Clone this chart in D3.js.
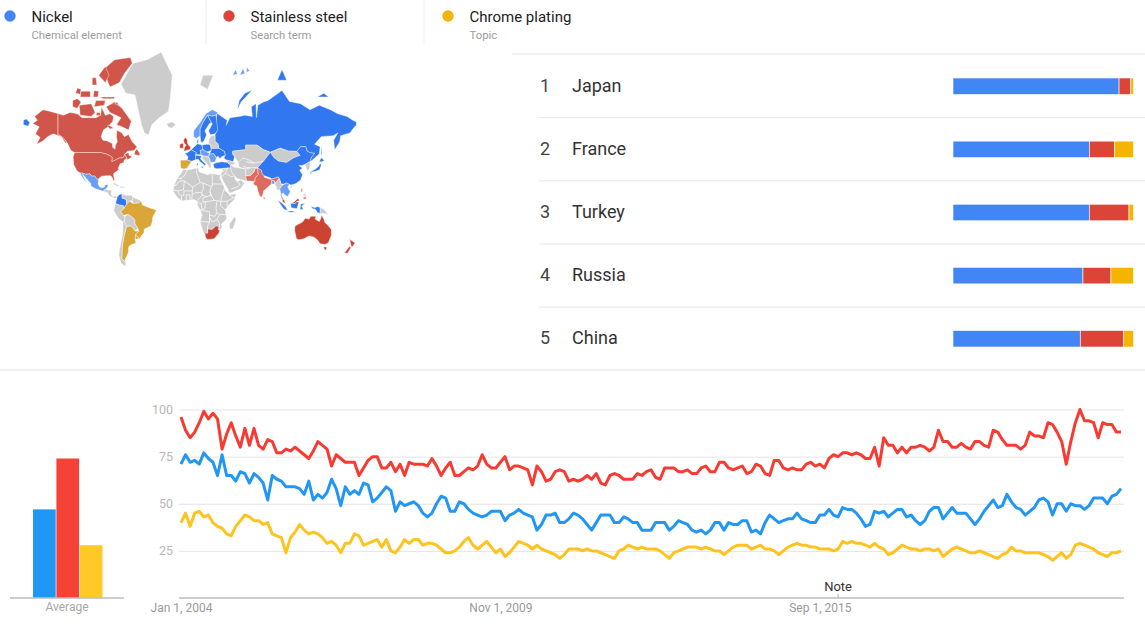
<!DOCTYPE html>
<html>
<head>
    <meta charset="utf-8">
    <title>Nickel, Stainless steel, Chrome plating</title>
    <script src="https://d3js.org/d3.v7.min.js"></script>
    <style>
        body { margin: 0; background: #fff; }
        text { font-family: Roboto, sans-serif; }
    </style>
</head>
<body>
<div id="chartContainer"></div>
<script type="text/javascript">
// search terms
var termNames = ["Nickel", "Stainless steel", "Chrome plating"];
var termTypes = ["Chemical element", "Search term", "Topic"];
var termAverages = [47, 74, 28];

// interest by region, top five (% of the row)
var countries = ["Japan", "France", "Turkey", "Russia", "China"];
var nickelShare = [92, 75.5, 75.5, 72, 70.5];
var steelShare = [6.5, 14, 22, 15.5, 24];
var chromeShare = [1.5, 10.5, 2.5, 12.5, 5.5];

// interest over time, monthly from Jan 2004
var nickelValues = [71,76,72,73,71,77,74,72,65,76,65,65,62,67,66,61,66,64,61,52,65,63,62,59,59,59,58,55,62,52,55,53,56,63,58,49,59,55,57,55,61,60,51,53,56,59,57,46,51,49,50,51,49,45,43,45,50,54,53,46,46,51,50,47,45,44,43,44,46,46,46,41,44,45,47,45,44,43,36,39,44,44,45,40,40,42,45,44,42,39,36,40,44,44,44,40,40,43,42,40,40,36,36,36,40,40,40,36,38,41,40,39,36,35,36,34,36,40,40,36,40,39,39,41,41,35,36,34,40,44,42,40,41,42,42,45,42,41,40,40,44,44,47,44,43,48,47,47,45,42,38,39,46,45,46,43,45,47,47,43,44,41,39,41,46,48,48,42,45,48,45,45,45,42,39,42,46,49,52,48,49,55,51,48,47,44,46,48,52,53,51,44,50,50,46,50,49,49,47,49,53,53,53,50,54,55,58];
var steelValues = [96,89,85,88,93,99,95,98,95,79,87,93,86,80,90,81,90,81,79,84,83,77,77,79,78,80,78,76,74,78,83,81,79,70,76,74,72,72,72,65,69,73,75,75,69,69,72,67,71,65,72,71,71,71,70,74,70,65,69,72,65,65,67,69,68,70,76,71,69,69,72,75,68,70,70,69,68,60,70,67,62,63,67,68,67,62,63,62,63,65,63,66,61,60,65,66,65,63,63,63,66,65,67,68,64,63,69,69,69,67,67,68,66,66,69,70,67,67,72,72,69,68,69,70,66,67,71,70,66,65,73,73,69,68,69,68,68,71,72,70,71,69,74,76,75,77,77,76,77,76,74,74,80,70,85,81,81,77,80,77,80,80,81,80,78,80,89,83,83,80,80,82,80,79,83,83,81,80,89,88,84,81,81,81,79,81,88,86,86,85,93,92,88,83,71,83,93,100,94,94,93,85,93,92,92,88,88];
var chromeValues = [40,45,38,45,46,43,44,40,38,37,34,33,38,41,44,43,41,41,39,40,34,33,32,24,32,35,39,36,34,35,34,32,29,30,28,24,29,29,34,33,28,29,30,31,27,31,25,24,27,31,29,31,31,28,29,29,28,26,24,24,25,27,30,32,28,26,28,30,27,24,26,22,24,27,30,29,28,26,28,26,25,24,23,21,23,26,26,26,25,26,25,25,24,23,22,21,25,26,28,27,26,27,26,26,26,25,23,21,24,25,26,27,27,27,26,27,26,25,25,23,25,27,28,28,28,26,27,28,26,26,25,23,25,27,28,29,28,28,27,27,26,26,26,25,26,30,29,30,29,29,28,27,29,27,26,23,24,26,28,27,26,26,25,26,26,25,26,22,24,26,27,26,25,24,24,25,24,23,22,21,23,24,27,25,25,24,24,24,24,23,22,20,22,24,21,23,28,29,28,27,26,24,23,22,24,24,25];
var yTicks = [25, 50, 75, 100];
var xTickMonths = [0, 70, 140];
var xTickLabels = ["Jan 1, 2004", "Nov 1, 2009", "Sep 1, 2015"];
var noteMonth = 144;

// map outlines: [fill key, [lon, lat] ring], drawn through the projection
var americasRegions = [
    ["red1", [[-141,69.6],[-135,69],[-128,70],[-120,69.5],[-115,68],[-108,68],[-100,68],[-95,69],[-94,72],[-90,69],[-85,69.5],[-81,68.5],[-82,66.5],[-87,64],[-92,62.5],[-94.5,59],[-92.5,57],[-88,56.5],[-82.5,55],[-82,52.5],[-79.5,51.3],[-79,54],[-77,56],[-78,59],[-77.5,62.4],[-72,61],[-69.5,59],[-65,60.2],[-61,56],[-56,53],[-59,50.5],[-66,50],[-70,47.5],[-65,49],[-64.5,47],[-61,46],[-66,43.6],[-67,45],[-69,47.3],[-71,45.2],[-75,45],[-79,43.5],[-83,42],[-82.5,45.5],[-84.5,46.5],[-89,48],[-95,49],[-110,49],[-123,49],[-127,50.5],[-130,54.5],[-133,57],[-137,59],[-141,60.3]]],
    ["red1", [[-141,69.6],[-141,60.3],[-137,59],[-133,55.5],[-131,55],[-135,58.5],[-146,60.5],[-152,59],[-157,56.5],[-164,54.5],[-160,58.5],[-165,60.5],[-161,64],[-168,65.5],[-163,67],[-166,68.5],[-157,71],[-150,70.5]]],
    ["red1", [[-123,49],[-95,49],[-89,48],[-84.5,46.5],[-82.5,45.5],[-83,42],[-79,43.5],[-75,45],[-71,45.2],[-69,47.3],[-67,45],[-70,43],[-70,41.5],[-74,40.5],[-76,37],[-75.5,35.3],[-81,32],[-81,30],[-80,26],[-81,25],[-82.5,28],[-84,30],[-89,30],[-94,29.5],[-97,27.5],[-97.3,26],[-99.5,27.5],[-101.5,29.8],[-104.5,29.5],[-106.5,31.8],[-111,31.3],[-114.8,32.5],[-117,32.5],[-120.5,34.5],[-124,40],[-124.5,46]]],
    ["red1", [[-80,73.5],[-72,71.5],[-62,66.5],[-65,62.5],[-72,64],[-78,65],[-73,68],[-85,70],[-89,72]]],
    ["red1", [[-117,69],[-105,68.5],[-101,70],[-105,73],[-118,72.5]]],
    ["red1", [[-125,72],[-120,71.5],[-116,73.5],[-120,74.5],[-125,74]]],
    ["red1", [[-80,82.5],[-63,82.8],[-61,82],[-69,80.4],[-75,78.5],[-85,77.5],[-88,79],[-92,81]]],
    ["red1", [[-96,75],[-80,75],[-80,74.5],[-92,74.5]]],
    ["red1", [[-97,80],[-90,78.5],[-86,80],[-90,81.5]]],
    ["red1", [[-117,75],[-106,75],[-106,76.5],[-116,76.5]]],
    ["red1", [[-102,72],[-91,72.5],[-90,74],[-100,74]]],
    ["red1", [[-122,76],[-117,75.7],[-116,77],[-120,77.3]]],
    ["red1", [[-104,78],[-99,78],[-100,79.5],[-104,79.5]]],
    ["red1", [[-103,75],[-98,75],[-97,76.5],[-102,76.7]]],
    ["red1", [[-100,69],[-95,68.8],[-96,70],[-99,70]]],
    ["red1", [[-80,73],[-76,72.5],[-77,73.5]]],
    ["red1", [[-87,65],[-81,63.5],[-85,63],[-87,64]]],
    ["red1", [[-59,47.7],[-53,46.7],[-53,48.5],[-56,51.5],[-58,50]]],
    ["gray", [[-73,78.2],[-68,76],[-58,75.5],[-54,70],[-51,65],[-48,61],[-43.5,59.9],[-40,65],[-32,68],[-22,70.5],[-20,75],[-18,80],[-30,83.5],[-45,82.5],[-60,82],[-66,80.5]]],
    ["blue2", [[-117,32.5],[-114.8,32.5],[-111,31.3],[-106.5,31.8],[-104.5,29.5],[-101.5,29.8],[-99.5,27.5],[-97.3,26],[-97.8,22],[-96,19],[-94,18.2],[-91,18.8],[-90.5,21],[-87,21.5],[-88,18],[-91,16],[-92.3,14.5],[-96,15.8],[-101,17.5],[-105.5,20],[-105.5,22.5],[-109,26],[-112.8,30],[-114.8,31.5],[-112,26.5],[-109.5,23],[-112,25],[-115,29]]],
    ["gray", [[-92.3,14.5],[-91,16],[-88,18],[-88.5,16],[-84,15.8],[-83.3,15],[-83.7,11],[-82,9],[-79.5,9.5],[-77.3,8.5],[-78,7.5],[-80,7.5],[-83,8.3],[-85.8,10],[-87.5,13]]],
    ["gray", [[-85,22],[-80,23],[-74.5,20],[-77.5,19.9],[-82,22.5]]],
    ["gray", [[-74,19.9],[-69,19],[-68.5,18.3],[-74,18.2]]],
    ["blue", [[-77.3,8.5],[-75,11],[-72,12],[-72,7.5],[-67.5,6],[-67,1],[-70,-4],[-70,-1],[-75,0],[-79,1.5],[-77.5,7]]],
    ["gray", [[-72,12],[-68,10.5],[-62,10.5],[-60,8.3],[-61,5],[-64,4],[-67,1],[-67.5,6],[-72,7.5]]],
    ["gray", [[-60,8.3],[-51.5,4.5],[-54,2.2],[-60,1.5],[-61,5]]],
    ["gray", [[-79,1.5],[-75,0],[-70,-1],[-70,-4],[-73.5,-7],[-70.5,-11],[-69,-12.5],[-69.5,-17.5],[-71,-18],[-76,-14],[-81,-6],[-80,-2.5]]],
    ["gray", [[-69,-12.5],[-65.3,-10],[-60,-13.5],[-58,-16.5],[-58,-20],[-55,-24],[-58,-27],[-62,-22],[-67,-22.5],[-69.5,-17.5]]],
    ["gold", [[-70,-4],[-67,1],[-64,4],[-60,1.5],[-54,2.2],[-51.5,4.5],[-50,0],[-44,-2.5],[-35,-5.5],[-39,-13],[-39.5,-18],[-41,-22],[-48,-25],[-48.5,-28.5],[-53.5,-34],[-57.5,-30],[-54,-27],[-55,-24],[-58,-20],[-58,-16.5],[-60,-13.5],[-65.3,-10],[-70.5,-11],[-73.5,-7]]],
    ["gold", [[-57.5,-30],[-53.5,-34],[-58,-34.5]]],
    ["gray", [[-69.5,-17.5],[-67,-22.5],[-70,-33],[-71.5,-40],[-72,-50],[-68,-52.5],[-68,-55],[-73,-53],[-75.5,-47],[-73,-37],[-71,-28],[-71,-18]]],
    ["gold", [[-67,-22.5],[-62,-22],[-58,-27],[-54,-27],[-57.5,-30],[-58,-34.5],[-57,-38],[-62,-39],[-65,-41],[-65,-45],[-69,-51],[-68,-52.5],[-72,-50],[-71.5,-40],[-70,-33]]]
];
var eurasiaRegions = [
    ["blue", [[30,69.7],[41,67],[40,64.7],[44,68],[54,68.5],[60,69],[68,68.5],[67,72],[72,73],[72.5,68],[74,72.5],[80,73.5],[85,74],[100,76.7],[108,73.7],[120,73],[130,71],[140,72.5],[152,71],[160,69.5],[170,68.5],[176,67],[179.9,66.2],[179.9,64.8],[178,64],[173,61],[163,59.5],[162,56],[156.7,51],[155.5,57],[160,61],[155,59.5],[142,59],[135,54.5],[141,53],[140,48],[132,43],[130.7,42.5],[131,45],[135,48.5],[130.5,48.8],[127,50],[125.5,53],[120,53],[116,49.8],[107,50],[98,52],[87.5,49.2],[80,51],[73,54],[61,54],[61,51],[47,50],[47,48],[49,46],[47.5,42],[40,43.5],[37.5,45],[39,47],[38,49.8],[32,52],[31,55],[28,56],[28,60],[30,62],[29,66]]],
    ["blue", [[-178,67],[-175,67.5],[-171,66],[-173,64.3],[-178,65]]],
    ["blue", [[142,54],[143,49],[142,46],[142,50]]],
    ["blue", [[52,71],[56,73.5],[68,76.8],[60,76],[54,74]]],
    ["blue", [[95,79],[105,79],[100,81]]],
    ["blue2", [[47,80],[52,80.2],[50,81]]],
    ["blue2", [[55,80],[60,80.3],[58,81.2]]],
    ["blue2", [[62,80.5],[65,80.8],[62,81.4]]],
    ["blue", [[138,75],[150,75],[145,76]]],
    ["gray", [[12,78],[20,77],[26,80],[15,80]]],
    ["gray", [[-24,65.5],[-18,66.2],[-14,65],[-19,63.4],[-22.5,64]]],
    ["blue2", [[5,59],[5,62],[12,66],[18,69.5],[25,71],[31,70],[29,69],[25,68.6],[20,69],[15,66],[12,63],[12,59.5],[8,58]]],
    ["blue", [[12,59.5],[12,63],[15,66],[20,69],[24,66],[22,65.5],[17,62],[18.8,60],[16.5,57],[14,55.5],[12.7,56]]],
    ["blue", [[20,69],[25,68.6],[29,69],[30,65.5],[31,62.5],[28,60.5],[23,60],[21,62],[25,65.3],[24,66]]],
    ["red2", [[-5.5,50],[1.5,51.2],[1.7,52.7],[0,53.5],[-1.5,55],[-2,57.5],[-4,58.5],[-6,57],[-5,55],[-3,54],[-4.8,52.5],[-5,51.7]]],
    ["red2", [[-10,52],[-6,52],[-6,55],[-8.5,55],[-10,54]]],
    ["gold", [[-9,37],[-9.3,43.2],[-2,43.5],[3,42.4],[0,39.5],[-2,36.8],[-5.5,36]]],
    ["blue", [[-1.8,43.5],[3,42.5],[7.5,43.8],[7,47.5],[8,49],[2.5,51],[-1.5,49],[-4.5,48.5],[-1,46]]],
    ["blue", [[2.5,51],[8,49],[7.5,47.6],[13,47.5],[12,50.5],[15,51],[14,54],[9,54.8],[4,52]]],
    ["blue2", [[8.2,55],[8.5,57],[10.5,57.5],[10,55]]],
    ["blue", [[14,54],[19,54.5],[23,54.3],[24,50.5],[19,49.4],[15,51]]],
    ["blue2", [[12,50.5],[15,51],[19,49.4],[22,48.5],[21,46],[16,46.5],[13,47.5]]],
    ["blue", [[7,43.9],[7,46],[8,47],[10,46.8],[13.7,46.5],[12.3,44.5],[16,41.5],[18.5,40],[16.5,39],[16,38],[15.7,40],[12,42],[10,44]]],
    ["blue", [[12.5,38],[15.5,38.2],[15,36.8]]],
    ["blue", [[8.3,39],[9.7,39.2],[9.5,41],[8.3,40.8]]],
    ["gray", [[13.7,45.5],[16,46.5],[21,46],[22.5,44],[23,41.5],[24,38],[22.5,36.7],[19.5,40.5],[15.5,43.5]]],
    ["blue2", [[21,46],[22,48],[26.5,48.3],[29.5,45],[28,42],[23,41.5],[22.5,44]]],
    ["blue", [[24,50.5],[24,52],[32,52],[38,49.8],[39,47],[35,46],[33.5,44.5],[31,46.5],[29.5,45.5],[26.5,48.3],[22,48]]],
    ["gray", [[23,54.3],[21,55],[21.5,57.5],[24,59.5],[28,59.5],[28,56],[31,55],[32,52],[24,52]]],
    ["blue", [[26,40],[29,41.2],[35,42],[41.5,41.5],[44.5,39.5],[44.5,37],[36,36.5],[30,36.2],[27,37]]],
    ["gray", [[47,50],[61,51],[61,54],[73,54],[80,51],[87.5,49.2],[80,42.5],[70,41],[66,43],[58,45],[53,41.5],[50,45],[49,46],[47,48]]],
    ["gray", [[87.5,49.2],[98,52],[107,50],[116,49.8],[119.5,47],[112,45],[105,41.5],[96,42.7],[91,45.5]]],
    ["gray", [[53,41.5],[58,45],[66,43],[70,41],[80,42.5],[74,37.5],[66,37],[61,36],[54,37.5]]],
    ["gray", [[44.5,39.5],[49,37.5],[54,37],[61,36],[61,31],[62,25],[57,26],[52,27.5],[48.5,30],[46,33],[44.5,37]]],
    ["gray", [[61,36],[66,37],[74,37.5],[71,36],[70,33.5],[66,30],[61,29.8]]],
    ["red3", [[61,29.8],[66,30],[70,33.5],[71,36],[74,37],[74,33],[74.5,31],[71,28],[71,24.5],[66.5,25],[62,25]]],
    ["gray", [[36,36.5],[44.5,37],[46,33],[48.5,30],[50,26],[51.5,24.5],[56,26],[59.5,22.5],[55,17],[45,13],[43,13],[42,17],[39,21],[35,28],[34.5,31.5],[36,34]]],
    ["gray", [[40,43.5],[47.5,42],[50,40],[44.5,39.5],[41.5,41.5]]],
    ["red3", [[74,37],[78,35],[78.5,32],[81,30],[80.5,28.7],[88,26.5],[89,27],[96,29],[97,27.5],[94,24],[92,23],[92,25],[89,25.5],[88.5,22],[86,20],[82,16.5],[80,15],[80,13],[78,8.2],[76,10],[74,15],[73,20],[70,21],[69,23],[71,24.5],[71,28],[74.5,31]]],
    ["red3", [[80,9.5],[82,7],[80.5,6]]],
    ["blue2", [[88.5,22],[89,25.5],[92,25],[92,22]]],
    ["blue", [[74,37.5],[80,42.5],[87.5,49.2],[91,45.5],[96,42.7],[105,41.5],[112,45],[119.5,47],[116,49.8],[120,53],[125.5,53],[127,50],[130.5,48.8],[135,48.5],[131,45],[130.7,42.5],[125,40],[121.5,39],[118,39],[122,37],[119,35],[122,31],[120,26],[115,22.5],[110,21],[108,21.5],[105,23],[102,22],[99,22],[98,25],[97,27.5],[96,29],[89,27],[88,27.8],[81,30],[78.5,32],[78,35],[74,37]]],
    ["blue", [[109,19],[111,20],[110,18.3]]],
    ["gray", [[125,40],[130.7,42.5],[129.5,36],[127,34.5],[126,37]]],
    ["blue", [[130.9,34],[135,35.5],[139,38],[141.5,41],[142,39],[140.5,35.5],[136,34],[132,33.5]]],
    ["blue", [[130,33.3],[131.8,33],[131,31]]],
    ["blue", [[140,42],[142,45.3],[145.5,43.3],[143,42]]],
    ["gray", [[92,22],[94,24],[97,27.5],[98,25],[99,22],[101,21],[100,20],[97.5,17],[99,12],[98.5,10],[97.5,16],[94.5,16],[94,19]]],
    ["blue2", [[101,21],[105,23],[108,21.5],[106,19],[109,14],[106,9],[103,11],[101,13],[99.5,11],[100,9],[102,6],[100,6],[98.5,10],[99,12],[97.5,17],[100,20]]],
    ["red2", [[100,6],[102,6],[104,1.5],[101,3]]],
    ["red2", [[109.5,1.5],[113,3.3],[117,7],[119,5],[115.5,3.5],[114,1.5]]],
    ["blue", [[109,1.5],[114,1.5],[115.5,3.5],[118,3],[117.5,1],[116,-4],[110,-3]]],
    ["blue", [[95.5,5.5],[100,2],[104,-2],[106,-6],[102,-4.5],[98,1]]],
    ["blue", [[105.5,-6.5],[111,-6.5],[114.5,-7.8],[108,-7.8]]],
    ["blue", [[119.5,-5],[120,1],[125,1.5],[121,-1],[123,-4.5]]],
    ["blue", [[131,-1],[135,-3],[138,-1.7],[141,-2.7],[141,-9],[138,-8],[136,-4.5],[133,-4]]],
    ["gray", [[141,-2.7],[145,-4.5],[148,-8],[150.5,-10.5],[146,-9],[143,-9],[141,-9]]],
    ["red4", [[120,16],[122,18.5],[122,14],[120.5,13.8]]],
    ["red4", [[122,7.5],[125.5,9.5],[126.5,7],[124,6]]],
    ["red4", [[122,11],[125,12],[125,10]]]
];
var southernRegions = [
    ["gray", [[-6,35.8],[-2,35],[10,37.3],[11,33.5],[15,32.3],[20,31],[24,32],[32,31],[34.5,31.5],[33,28],[37,21],[39,15],[43,12],[43,11],[51,12],[48,5],[42,-1],[39,-5],[40.5,-15],[35,-20],[35.5,-24],[33,-26],[32,-29],[27,-34],[20,-34.8],[18,-33],[15,-27],[12,-18],[14,-11],[12,-5],[9,0],[9.5,4],[5,6],[-3,5],[-8,4.5],[-13,8.5],[-17,14.5],[-16,20],[-13,27.5],[-9.5,31]]],
    ["red2", [[17,-29],[20,-29],[20,-25],[25,-25.5],[29,-22],[32,-22.5],[32,-26],[33,-26],[32,-29],[27,-34],[20,-34.8],[18,-33]]],
    ["gray", [[49.5,-12],[50.5,-16],[47,-25],[44,-25],[43.5,-20],[47,-15]]],
    ["red2", [[114,-22],[113.5,-26],[115.5,-34],[118,-35],[123.5,-34],[129,-31.5],[134,-32.5],[138,-35],[141,-38.5],[146.5,-39],[150,-37.3],[153,-31],[153,-25.5],[149,-21],[146,-18.5],[145,-15],[142.5,-11],[141.5,-15],[140,-17.5],[135.5,-15],[136.5,-12],[131,-12],[129,-15],[125,-14],[122,-18],[117,-20.5]]],
    ["red2", [[144.7,-41],[148,-41],[147.5,-43.5],[146,-43.5]]],
    ["red2", [[172.7,-34.5],[178.5,-37.7],[175,-41.5],[174,-39]]],
    ["red2", [[172.7,-40.5],[174,-41.7],[170.5,-46],[167,-46],[170,-43]]]
];
// country borders inside the grey landmasses
var borderLines = [
    [[-2,35],[-5,30],[-8.7,27.5],[-13,27.5]], [[-8.7,27.5],[-8.7,25],[-12,23.5],[-13,21.3],[-16,20]],
    [[-8.7,25],[-5,25],[4,19],[12,23.5],[9.5,30],[8,33],[8.5,37]], [[12,23.5],[15,23],[24,19.5],[25,20],[25,32]],
    [[25,22],[37,22]], [[4,19],[3.5,15],[0,15],[-5.5,15],[-5.5,10.5],[-8,10],[-11.5,12.5],[-12,15],[-16.5,16]],
    [[-5,25],[-6,16],[-12,15]], [[15,23],[15.5,17],[13.5,13.5],[7,13],[3.5,11.5],[3.5,15]],
    [[3,6.5],[3.5,11.5]], [[13.5,13.5],[14,10],[9,5]], [[24,19.5],[22.5,14],[24,10.5],[19,9],[15,10],[14,12]],
    [[22.5,14],[24,10],[27,5],[34,4],[36,12],[38,18]], [[15,7.5],[19,9]], [[15,7.5],[15,3],[18,3.5],[27,5]],
    [[34,4],[41,4],[48,8],[43,11]], [[41,4],[41,-1.5]], [[34,4],[34,-1],[39,-5]], [[12,-5],[17,-4],[18,3.5]],
    [[30,4],[29,-4],[30,-8],[28,-12],[22,-11],[22,-7],[13,-6]], [[22,-11],[22,-18],[12,-17.5]], [[22,-18],[20,-22],[20,-29]],
    [[22,-13],[25,-18],[30,-15.5],[33,-10],[30,-8]], [[33,-10],[40.5,-10.5]], [[30,-15.5],[33,-20],[32,-26]],
    [[-3,5],[-3,11],[1,11],[1,6]], [[-8,4.5],[-8,10]], [[9.8,2],[13,2],[14,-4]],
    [[36,34],[42,37]], [[39,32],[46,29],[48.5,30]], [[35,29],[39,32],[42,37]], [[45,17],[52,19],[55,22],[51.5,24.5]],
    [[58,38],[66,37]], [[61,42],[70,41]]
];
var mapFills = { gray: "#cccccc", blue: "#3178f0", blue2: "#6a9df4", red1: "#d0554a", red2: "#cc4331", red3: "#dd6a5e", red4: "#e88a80", gold: "#d9a637" };

var legendDots = ["#4285f4", "#db4437", "#f4b400"];
var lineColors = ["#2196f3", "#f73b32", "#ffc31f"];
var barColors = ["#2196f3", "#f44336", "#ffca28"];

var svg = d3.select("#chartContainer").append("svg")
    .attr("width", 1145)
    .attr("height", 635)
    .style("display", "block");

// legend along the top
var legend = svg.selectAll("g.legend")
    .data(termNames)
    .enter()
    .append("g")
    .attr("transform", function (d, i) { return "translate(" + (10 + i * 219) + ",0)"; });
legend.append("circle").attr("cy", 16).attr("r", 5.7)
    .attr("fill", function (d, i) { return legendDots[i]; });
legend.append("text").attr("x", 21.5).attr("y", 21.5)
    .style("font-size", "15px").attr("fill", "#222")
    .text(function (d) { return d; });
legend.append("text").attr("x", 21.5).attr("y", 39)
    .style("font-size", "11.3px").attr("fill", "#9e9e9e")
    .text(function (d, i) { return termTypes[i]; });
svg.selectAll("line.sep")
    .data([206, 424])
    .enter()
    .append("line")
    .attr("x1", function (d) { return d; }).attr("x2", function (d) { return d; })
    .attr("y1", 0).attr("y2", 44)
    .attr("stroke", "#eeeeee");

// world map
var projection = d3.geoMercator().scale(53.3).translate([189, 205]);
var outline = d3.line();
svg.append("g")
    .style("filter", "blur(0.35px)")
    .selectAll("path")
    .data(americasRegions.concat(eurasiaRegions, southernRegions))
    .enter()
    .append("path")
    .attr("d", function (d) { return outline(d[1].map(projection)) + "Z"; })
    .attr("fill", function (d) { return mapFills[d[0]]; })
    .attr("stroke", "#fff")
    .attr("stroke-width", 0.4);
svg.append("g")
    .selectAll("path")
    .data(borderLines)
    .enter()
    .append("path")
    .attr("d", function (d) { return outline(d.map(projection)); })
    .attr("fill", "none")
    .attr("stroke", "#fff")
    .attr("stroke-width", 0.7);

// top countries with stacked bars
var rowY = d3.scaleLinear().domain([0, 4]).range([86, 338.5]);
var barX = d3.scaleLinear().domain([0, 100]).range([953, 1133.5]);
svg.append("line").attr("x1", 512).attr("x2", 1145).attr("y1", 54).attr("y2", 54)
    .attr("stroke", "#e6e6e6");
svg.selectAll("line.row")
    .data(countries.slice(0, 4))
    .enter()
    .append("line")
    .attr("x1", 539).attr("x2", 1145)
    .attr("y1", function (d, i) { return rowY(i) + 31.7; })
    .attr("y2", function (d, i) { return rowY(i) + 31.7; })
    .attr("stroke", "#e6e6e6");
svg.append("line").attr("x1", 0).attr("x2", 1145).attr("y1", 370).attr("y2", 370)
    .attr("stroke", "#e2e2e2");

countries.forEach(function (name, i) {
    svg.append("text").attr("x", 540).attr("y", rowY(i) + 5.5)
        .style("font-size", "18px").attr("fill", "#444").text(i + 1);
    svg.append("text").attr("x", 572).attr("y", rowY(i) + 5.5)
        .style("font-size", "18px").attr("fill", "#333").text(name);
    var shares = [nickelShare[i], steelShare[i], chromeShare[i]];
    var start = 0;
    shares.forEach(function (v, k) {
        svg.append("rect")
            .attr("x", barX(start))
            .attr("y", rowY(i) - 8)
            .attr("width", barX(start + v) - barX(start))
            .attr("height", 16.5)
            .attr("fill", legendDots[k])
            .attr("stroke", "#fff")
            .attr("stroke-width", 0.6);
        start += v;
    });
});

// trends chart
var y = d3.scaleLinear().domain([0, 100]).range([598, 409.5]);
var x = d3.scaleLinear().domain([0, nickelValues.length - 1]).range([181, 1121]);

var yAxis = d3.axisLeft(y).tickValues(yTicks).tickSize(-945).tickPadding(6);
var yG = svg.append("g").attr("transform", "translate(179,0)").call(yAxis);
yG.select(".domain").remove();
yG.selectAll("line").attr("stroke", "#e4e4e4");
yG.selectAll("text").attr("fill", "#b8b8b8").style("font-size", "12.5px").style("font-family", "Roboto, sans-serif");

var xAxis = d3.axisBottom(x).tickValues(xTickMonths).tickSize(0).tickPadding(5)
    .tickFormat(function (d, i) { return xTickLabels[i]; });
var xG = svg.append("g").attr("transform", "translate(0,598)").call(xAxis);
xG.select(".domain").remove();
xG.selectAll("text").attr("fill", "#9a9a9a").style("font-size", "12px").style("font-family", "Roboto, sans-serif");
svg.append("line").attr("x1", 179).attr("x2", 1124).attr("y1", 598).attr("y2", 598)
    .attr("stroke", "#bdbdbd").attr("stroke-width", 1.4);

var line = d3.line()
    .x(function (d, i) { return x(i); })
    .y(function (d) { return y(d); });
[chromeValues, nickelValues, steelValues].forEach(function (values, i) {
    svg.append("path")
        .datum(values)
        .attr("d", line)
        .attr("fill", "none")
        .attr("stroke", [lineColors[2], lineColors[0], lineColors[1]][i])
        .attr("stroke-width", 3)
        .attr("stroke-linejoin", "round");
});

// note marker
svg.append("line")
    .attr("x1", x(noteMonth)).attr("x2", x(noteMonth)).attr("y1", 594).attr("y2", 598)
    .attr("stroke", "#aaa");
svg.append("text")
    .attr("x", x(noteMonth)).attr("y", 591)
    .attr("text-anchor", "middle")
    .style("font-size", "13px").attr("fill", "#333")
    .text("Note");

// averages
var avgX = d3.scaleBand().domain(termNames).range([33, 102.5]).paddingInner(0.03);
svg.selectAll("rect.avg")
    .data(termAverages)
    .enter()
    .append("rect")
    .attr("x", function (d, i) { return avgX(termNames[i]); })
    .attr("y", function (d) { return y(d); })
    .attr("width", avgX.bandwidth())
    .attr("height", function (d) { return y(0) - y(d); })
    .attr("fill", function (d, i) { return barColors[i]; });
svg.append("line").attr("x1", 10).attr("x2", 124).attr("y1", 598).attr("y2", 598)
    .attr("stroke", "#bdbdbd").attr("stroke-width", 1.4);
svg.append("text").attr("x", 67).attr("y", 611).attr("text-anchor", "middle")
    .style("font-size", "12px").attr("fill", "#a8a8a8").text("Average");
</script>
</body>
</html>
